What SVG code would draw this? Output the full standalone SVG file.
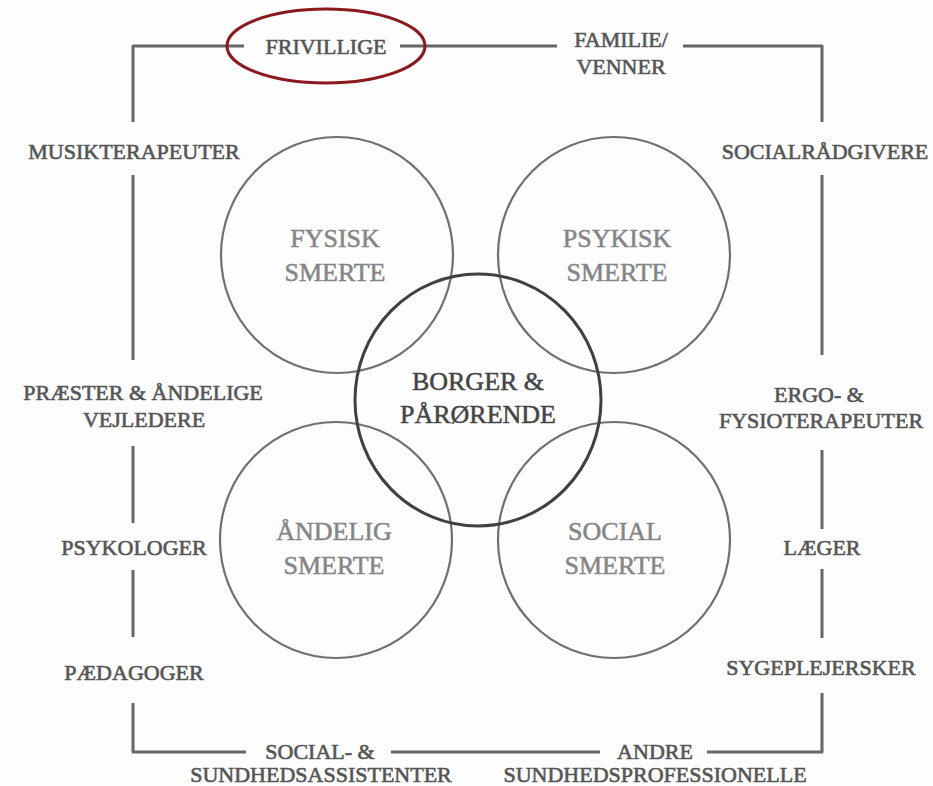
<svg xmlns="http://www.w3.org/2000/svg" width="933" height="786" viewBox="0 0 933 786">
<style>
.frame{fill:none;stroke:#666;stroke-width:3;stroke-linejoin:round;stroke-linecap:butt}
.outer{fill:none;stroke:#707070;stroke-width:2.2}
.center{fill:none;stroke:#404040;stroke-width:3}
.lbl{font-family:"Liberation Serif","Times New Roman",serif;font-size:22px;fill:#555;stroke:#555;stroke-width:0.6;text-anchor:middle}
.pain{font-family:"Liberation Serif","Times New Roman",serif;font-size:26px;fill:#858585;stroke:#858585;stroke-width:0.5;text-anchor:middle}
.core{font-family:"Liberation Serif","Times New Roman",serif;font-size:26px;fill:#444;stroke:#444;stroke-width:0.5;text-anchor:middle}
</style>
<rect width="933" height="786" fill="#fdfdfd"/>
<g id="connectors">
<path class="frame" d="M133,122 V46 H244"/>
<path class="frame" d="M400,46 H557"/>
<path class="frame" d="M683,46 H822 V122"/>
<path class="frame" d="M133,175 V360"/>
<path class="frame" d="M133,446 V523"/>
<path class="frame" d="M133,570 V637"/>
<path class="frame" d="M133,703 V752 H246"/>
<path class="frame" d="M822,175 V355"/>
<path class="frame" d="M822,450 V529"/>
<path class="frame" d="M822,569 V638"/>
<path class="frame" d="M822,693 V752 H707"/>
<path class="frame" d="M391,752 H600"/>
</g>
<g id="fysisk"><ellipse class="outer" cx="337" cy="255" rx="116" ry="118"/><text class="pain" x="335" y="247">FYSISK</text><text class="pain" x="335" y="281">SMERTE</text></g>
<g id="psykisk"><ellipse class="outer" cx="614" cy="255" rx="116" ry="118"/><text class="pain" x="617" y="247">PSYKISK</text><text class="pain" x="617" y="281">SMERTE</text></g>
<g id="andelig"><ellipse class="outer" cx="336" cy="540" rx="116" ry="118"/><text class="pain" x="334" y="540">ÅNDELIG</text><text class="pain" x="334" y="574">SMERTE</text></g>
<g id="social"><ellipse class="outer" cx="614" cy="540" rx="116" ry="118"/><text class="pain" x="615" y="540">SOCIAL</text><text class="pain" x="615" y="574">SMERTE</text></g>
<g id="borger"><ellipse class="center" cx="478" cy="400" rx="123" ry="126"/><text class="core" x="478" y="390">BORGER &amp;</text><text class="core" x="478" y="423">PÅRØRENDE</text></g>
<g id="frivillige"><ellipse cx="326" cy="46" rx="99" ry="37" fill="none" stroke="#8b1a1f" stroke-width="3"/><text class="lbl" x="326" y="54">FRIVILLIGE</text></g>
<g id="familie"><text class="lbl" x="621" y="47">FAMILIE/</text><text class="lbl" x="621" y="74">VENNER</text></g>
<g id="musik"><text class="lbl" x="134" y="159">MUSIKTERAPEUTER</text></g>
<g id="socialraad"><text class="lbl" x="825" y="159">SOCIALRÅDGIVERE</text></g>
<g id="praester"><text class="lbl" x="143" y="400">PRÆSTER &amp; ÅNDELIGE</text><text class="lbl" x="144" y="427">VEJLEDERE</text></g>
<g id="ergo"><text class="lbl" x="819" y="402">ERGO- &amp;</text><text class="lbl" x="821" y="428">FYSIOTERAPEUTER</text></g>
<g id="psykologer"><text class="lbl" x="134" y="555">PSYKOLOGER</text></g>
<g id="laeger"><text class="lbl" x="822" y="555">LÆGER</text></g>
<g id="paedagoger"><text class="lbl" x="134" y="680">PÆDAGOGER</text></g>
<g id="sygeplejersker"><text class="lbl" x="821" y="675">SYGEPLEJERSKER</text></g>
<g id="assistenter"><text class="lbl" x="320" y="759">SOCIAL- &amp;</text><text class="lbl" x="321" y="782">SUNDHEDSASSISTENTER</text></g>
<g id="andre"><text class="lbl" x="655" y="759">ANDRE</text><text class="lbl" x="655" y="782">SUNDHEDSPROFESSIONELLE</text></g>
</svg>
